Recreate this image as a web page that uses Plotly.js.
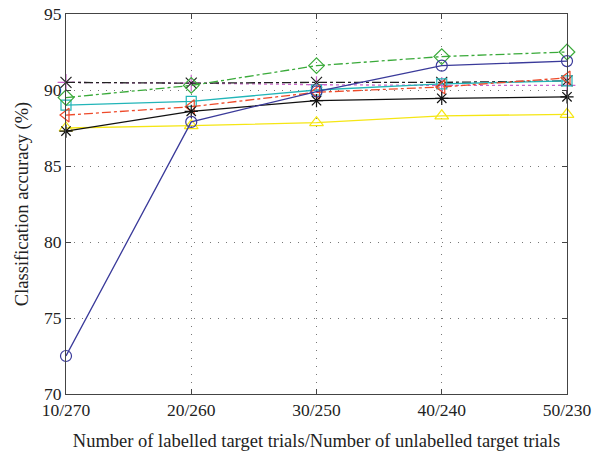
<!DOCTYPE html>
<html><head><meta charset="utf-8">
<script src="https://cdn.plot.ly/plotly-3.0.1.min.js"></script>
<style>html,body{margin:0;padding:0;background:#fff;}#chart{width:595px;height:456px;}</style>
</head><body><div id="chart"></div>
<script>
const categories = ["10/270", "20/260", "30/250", "40/240", "50/230"];
const blueCircle = [72.5, 87.9, 89.9, 91.6, 91.9];
const blackStar = [87.3, 88.6, 89.3, 89.45, 89.55];
const yellowTri = [87.5, 87.65, 87.85, 88.3, 88.4];
const cyanSquare = [89.0, 89.25, 90.0, 90.4, 90.6];
const redTriLeft = [88.35, 88.9, 89.85, 90.2, 90.8];
const greenDiamond = [89.5, 90.3, 91.6, 92.2, 92.5];
const blackX = [90.5, 90.45, 90.5, 90.5, 90.6];
const pinkPlus = [90.5, 90.45, 90.35, 90.3, 90.3];

function tr(y, color, dash, symbol, size) {
  return {x: categories, y: y, type: 'scatter', mode: 'lines+markers', cliponaxis: false,
    line: {color: color, width: 1.3, dash: dash},
    marker: {symbol: symbol, size: size, color: color, line: {color: color, width: 1.2}}};
}
const data = [
  tr(pinkPlus, '#cc66cc', 'dot', 'cross-thin-open', 12),
  tr(blackX, '#222222', 'dashdot', 'x-thin-open', 11),
  tr(yellowTri, '#f5e614', 'solid', 'triangle-up-open', 12),
  tr(cyanSquare, '#22b5b8', 'solid', 'square-open', 10),
  tr(redTriLeft, '#ee4a2a', 'dashdot', 'triangle-left-open', 12),
  tr(greenDiamond, '#3aaa3a', 'dashdot', 'diamond-open', 12),
  tr(blackStar, '#111111', 'solid', 'asterisk-open', 11),
  tr(blueCircle, '#3a3a9a', 'solid', 'circle-open', 11)
];
const font = {family: '"Liberation Serif", "DejaVu Serif", serif', size: 17.5, color: '#222'};
const titleFont = {family: font.family, size: 18.5, color: '#222'};
const layout = {
  width: 595, height: 456,
  margin: {l: 66, r: 28, t: 14, b: 62},
  paper_bgcolor: '#fff', plot_bgcolor: '#fff',
  showlegend: false,
  font: font,
  xaxis: {type: 'category', range: [0, 4], showline: true, linecolor: '#444', linewidth: 1,
    mirror: 'ticks', ticks: 'inside', ticklen: 5, tickcolor: '#444',
    showgrid: true, gridcolor: '#777', griddash: '1px,7px', gridwidth: 1, zeroline: false,
    tickfont: font,
    title: {text: 'Number of labelled target trials/Number of unlabelled target trials', font: titleFont, standoff: 15}},
  yaxis: {range: [70, 95], dtick: 5, showline: true, linecolor: '#444', linewidth: 1,
    mirror: 'ticks', ticks: 'inside', ticklen: 5, tickcolor: '#444',
    showgrid: true, gridcolor: '#777', griddash: '1px,7px', gridwidth: 1, zeroline: false,
    tickfont: font,
    title: {text: 'Classification accuracy (%)', font: titleFont, standoff: 10}}
};
Plotly.newPlot('chart', data, layout, {displayModeBar: false, staticPlot: true});
</script></body></html>
